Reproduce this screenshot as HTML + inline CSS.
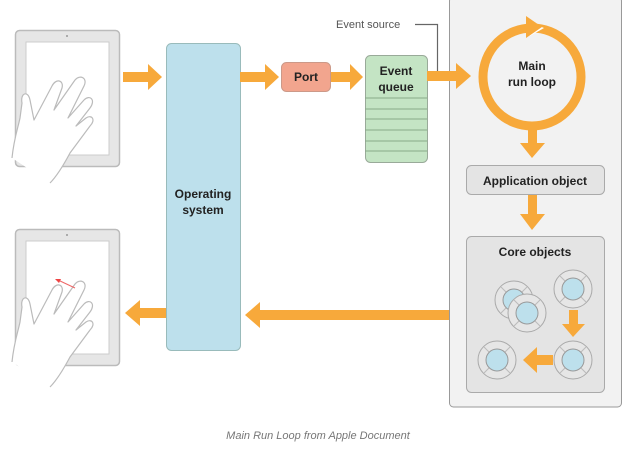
<!DOCTYPE html>
<html><head><style>body{margin:0;background:#fff}svg{display:block}</style></head><body>
<svg width="626" height="451" viewBox="0 0 626 451" xmlns="http://www.w3.org/2000/svg" font-family="Liberation Sans, Arial, sans-serif">
<defs>
<g id="obj"><circle r="19" fill="#e6e6e6" stroke="#aaa" stroke-width="1"/><path d="M-13,-13 L13,13 M13,-13 L-13,13" stroke="#bbb"/><circle r="11" fill="#bde0ec" stroke="#999"/></g>
<g id="hand" fill="#fff" stroke="#bbb" stroke-width="1.2" stroke-linejoin="round">
<path d="M12,130 C14,110 18,100 20,90 L22,75 C20,65 28,62 30,72 L34,92 L52,58 C56,50 64,52 62,60 L54,82 L75,52 C80,46 88,50 84,58 L68,90 L84,72 C90,66 96,72 90,80 L76,98 L86,90 C92,86 96,92 90,98 L70,125 C62,140 55,150 50,155"/>
</g>
</defs>
<rect x="15.5" y="30.5" width="104" height="136" rx="4" fill="#e6e6e6" stroke="#bbb" stroke-width="1.5"/>
<rect x="26" y="42" width="83" height="113" fill="#fff" stroke="#ccc"/>
<circle cx="67" cy="36" r="1" fill="#999"/>
<use href="#hand" x="0" y="28"/>
<rect x="15.5" y="229.5" width="104" height="136" rx="4" fill="#e6e6e6" stroke="#bbb" stroke-width="1.5"/>
<rect x="26" y="241" width="83" height="113" fill="#fff" stroke="#ccc"/>
<circle cx="67" cy="235" r="1" fill="#999"/>
<use href="#hand" x="0" y="232"/>
<path d="M75,288 L58,280" stroke="#e66" stroke-width="1"/><path d="M55,279 L61,279 L59,283Z" fill="#e44"/>
<rect x="449.5" y="-3" width="172" height="410" rx="4" fill="#f2f2f2" stroke="#999"/>
<rect x="166.5" y="43.5" width="74" height="307" rx="5" fill="#bde0ec" stroke="#9bb"/>
<text x="203" y="198" font-size="12" font-weight="bold" text-anchor="middle" fill="#222">Operating</text>
<text x="203" y="214" font-size="12" font-weight="bold" text-anchor="middle" fill="#222">system</text>
<rect x="281.5" y="62.5" width="49" height="29" rx="5" fill="#f2a58e" stroke="#c98"/>
<text x="306" y="81" font-size="12" font-weight="bold" text-anchor="middle" fill="#222">Port</text>
<rect x="365.5" y="55.5" width="62" height="107" rx="5" fill="#c4e4c4" stroke="#9a9"/>
<g stroke="#8a8"><line x1="365" y1="98" x2="427" y2="98"/><line x1="365" y1="109" x2="427" y2="109"/><line x1="365" y1="119" x2="427" y2="119"/><line x1="365" y1="130" x2="427" y2="130"/><line x1="365" y1="141" x2="427" y2="141"/><line x1="365" y1="151" x2="427" y2="151"/></g>
<text x="396" y="75" font-size="12" font-weight="bold" text-anchor="middle" fill="#222">Event</text>
<text x="396" y="91" font-size="12" font-weight="bold" text-anchor="middle" fill="#222">queue</text>
<text x="336" y="28" font-size="11" fill="#555">Event source</text>
<path d="M415,24.5 H437.5 V73" stroke="#666" fill="none" stroke-width="1.2"/>
<g fill="#f7a93b">
<rect x="123" y="72" width="26" height="10"/><path d="M148,64 L162,77 L148,90Z"/>
<rect x="240" y="72" width="26" height="10"/><path d="M265,64 L279,77 L265,90Z"/>
<rect x="331" y="72" width="20" height="10"/><path d="M350,64 L363,77 L350,90Z"/>
<rect x="427" y="71" width="30" height="10"/><path d="M456,63 L471,76 L456,89Z"/>
<rect x="528" y="125" width="9" height="19"/><path d="M520,143 L545,143 L532,158Z"/>
<rect x="528" y="195" width="9" height="20"/><path d="M520,214 L545,214 L532,230Z"/>
<rect x="259" y="310" width="190" height="10"/><path d="M260,302 L245,315 L260,328Z"/>
<rect x="138" y="308" width="28" height="10"/><path d="M140,300 L125,313 L140,326Z"/>
</g>
<circle cx="532" cy="77" r="49" fill="none" stroke="#f7a93b" stroke-width="9"/>
<path d="M530,22 L544,28 L530,36Z" fill="#fff"/>
<path d="M526,16 L542,27 L526,38Z" fill="#f7a93b"/>
<text x="532" y="70" font-size="12" font-weight="bold" text-anchor="middle" fill="#222">Main</text>
<text x="532" y="86" font-size="12" font-weight="bold" text-anchor="middle" fill="#222">run loop</text>
<rect x="466.5" y="165.5" width="138" height="29" rx="5" fill="#e4e4e4" stroke="#aaa"/>
<text x="535" y="185" font-size="12" font-weight="bold" text-anchor="middle" fill="#222">Application object</text>
<rect x="466.5" y="236.5" width="138" height="156" rx="5" fill="#e4e4e4" stroke="#aaa"/>
<text x="535" y="256" font-size="12" font-weight="bold" text-anchor="middle" fill="#222">Core objects</text>
<use href="#obj" x="514" y="300"/>
<use href="#obj" x="527" y="313"/>
<use href="#obj" x="573" y="289"/>
<use href="#obj" x="573" y="360"/>
<use href="#obj" x="497" y="360"/>
<g fill="#f7a93b"><rect x="569" y="310" width="9" height="15"/><path d="M562,324 L585,324 L573,337Z"/>
<rect x="535" y="355" width="18" height="10"/><path d="M537,347 L523,360 L537,373Z"/></g>
<text x="318" y="439" font-size="11" font-style="italic" text-anchor="middle" fill="#777">Main Run Loop from Apple Document</text>
</svg>
</body></html>
